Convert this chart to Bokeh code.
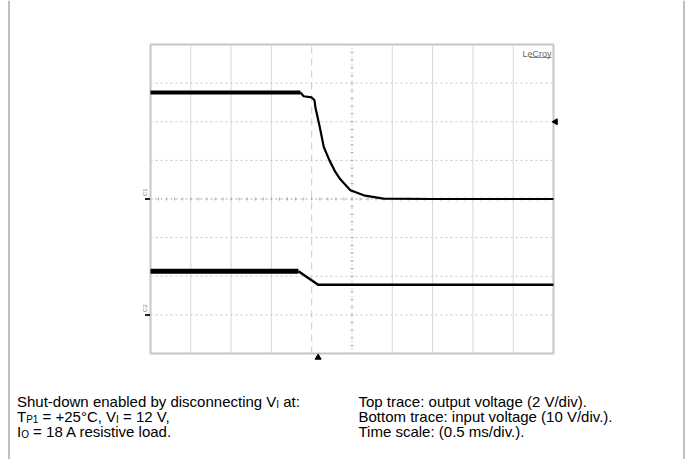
import numpy as np
from bokeh.plotting import figure
from bokeh.models import Range1d, Label, Span
from bokeh.embed import file_html
from bokeh.resources import INLINE

# ---- data ----
# time axis: 0.5 ms/div, 10 divisions, centre of screen = 0 ms
t_out_ms = [-2.5, -0.64, -0.60, -0.50, -0.465, -0.455, -0.40, -0.35, -0.28, -0.205, -0.145, -0.02, 0.145, 0.39, 0.975, 2.5]
v_out_V = [5.52, 5.52, 5.32, 5.26, 5.11, 4.76, 3.73, 2.69, 2.0, 1.39, 1.02, 0.45, 0.19, 0.02, 0.0, 0.0]
t_in_ms = [-2.5, -0.665, -0.42, 2.5]
v_in_V = [11.3, 11.3, 7.8, 7.8]
trigger_ms = -0.5
trigger_arrow_ms = -0.42
trigger_level_V = 4.0

# scope screen: 10 x 8 divisions
ms_per_div = 0.5
c1_V_per_div = 2.0
c2_V_per_div = 10.0
c1_zero_div = 4   # divisions above bottom of the screen
c2_zero_div = 1

left_text = [
    [("Shut-down enabled by disconnecting V", "n"), ("I", "sub"), (" at:", "n")],
    [("T", "n"), ("P1", "sub"), (" = +25\u00b0C, V", "n"), ("I", "sub"), (" = 12 V,", "n")],
    [("I", "n"), ("O", "sub"), (" = 18 A resistive load.", "n")],
]
right_text = [
    "Top trace: output voltage (2 V/div).",
    "Bottom trace: input voltage (10 V/div.).",
    "Time scale: (0.5 ms/div.).",
]

# ---- geometry (page pixels) ----
W, H = 690, 459
SL, SR, ST, SB = 150, 553, 44, 353      # scope screen box
FONT = "Liberation Sans"
FS = 15
FS_SUB = 10

t0, t1 = -5 * ms_per_div, 5 * ms_per_div
px_ms = (SR - SL) / (t1 - t0)
c1_lo, c1_hi = -c1_zero_div * c1_V_per_div, (8 - c1_zero_div) * c1_V_per_div
c2_lo, c2_hi = -c2_zero_div * c2_V_per_div, (8 - c2_zero_div) * c2_V_per_div
px_v1 = (SB - ST) / (c1_hi - c1_lo)
px_v2 = (SB - ST) / (c2_hi - c2_lo)

p = figure(width=W, height=H, output_backend="svg", toolbar_location=None,
           x_range=Range1d(t0 - SL / px_ms, t1 + (W - SR) / px_ms),
           y_range=Range1d(c1_lo - (H - SB) / px_v1, c1_hi + ST / px_v1),
           x_axis_location=None, y_axis_location=None, min_border=0)
p.extra_y_ranges = {"c2": Range1d(c2_lo - (H - SB) / px_v2, c2_hi + ST / px_v2)}
p.outline_line_color = None
p.background_fill_color = "white"
p.border_fill_color = "white"
p.xgrid.visible = False
p.ygrid.visible = False

# grid lines
xdiv = np.arange(t0 + ms_per_div, t1 - 1e-9, ms_per_div)
xg = [x for x in xdiv if abs(x) > 1e-9 and abs(x - trigger_ms) > 1e-9]
p.segment(x0=xg, y0=c1_lo, x1=xg, y1=c1_hi, line_color="#d9d9d9", line_width=1)
ydiv = np.arange(c1_lo + c1_V_per_div, c1_hi - 1e-9, c1_V_per_div)
yg = [y for y in ydiv if abs(y) > 1e-9]
p.segment(x0=t0, y0=yg, x1=t1, y1=yg, line_color="#c4c4c4", line_width=1, line_dash="2 3")
p.segment(x0=[trigger_ms], y0=c1_lo, x1=[trigger_ms], y1=c1_hi, line_color="#c8c8c8", line_width=1, line_dash="7 5")
p.segment(x0=[0], y0=c1_lo, x1=[0], y1=c1_hi, line_color="#a8a8a8", line_width=1, line_dash="1 3")
p.segment(x0=t0, y0=[0], x1=t1, y1=[0], line_color="#a8a8a8", line_width=1, line_dash="2 3")

# centre-line tick marks
tx = np.arange(t0, t1 + 1e-9, ms_per_div / 5)
p.scatter(tx, np.zeros_like(tx), marker="dash", angle=np.pi / 2, size=3, line_color="#aaaaaa", line_width=1)
ty = np.arange(c1_lo, c1_hi + 1e-9, c1_V_per_div / 5)
p.scatter(np.zeros_like(ty), ty, marker="dash", size=3, line_color="#aaaaaa", line_width=1)

# screen frame
p.quad(left=[t0], right=[t1], bottom=[c1_lo], top=[c1_hi], fill_color=None, line_color="#c6c6c6", line_width=2)

# traces
n_pre_out = 2
p.line(t_out_ms[:n_pre_out], v_out_V[:n_pre_out], line_color="black", line_width=4)
p.line(t_out_ms[n_pre_out - 1:], v_out_V[n_pre_out - 1:], line_color="black", line_width=2.2)
p.line(t_in_ms[:2], v_in_V[:2], line_color="black", line_width=5, y_range_name="c2")
p.line(t_in_ms[1:], v_in_V[1:], line_color="black", line_width=2.5, y_range_name="c2")

# scope markers
p.scatter([t1 + 2 / px_ms], [trigger_level_V], marker="triangle", angle=np.pi / 2, size=6, color="black")
p.scatter([trigger_arrow_ms], [c1_lo - 4 / px_v1], marker="triangle", size=6, color="black")
for rng, lab in ((None, "C1"), ("c2", "C2")):
    kw = {} if rng is None else {"y_range_name": rng}
    p.scatter([t0 - 3 / px_ms], [0], marker="dash", size=5, line_color="#222222", line_width=2, **kw)
    p.add_layout(Label(x=t0, y=0, x_offset=-3, y_offset=3, text=lab, text_font=FONT, text_font_size="6px",
                       text_align="left", text_baseline="bottom", angle=np.pi / 2, text_color="#777777", **kw))
p.add_layout(Label(x=t1, y=c1_hi, x_offset=-2, y_offset=-4, text="LeCroy", text_font=FONT, text_font_size="9px",
                   text_align="right", text_baseline="top", text_color="#666666"))
p.segment(x0=[t1 - 24 / px_ms], y0=[c1_hi - 13 / px_v1], x1=[t1 - 2 / px_ms], y1=[c1_hi - 13 / px_v1],
          line_color="#888888", line_width=1)

# page border lines
p.add_layout(Span(location=8.5, location_units="screen", dimension="height", line_color="#808080", line_width=1))
p.add_layout(Span(location=683.5, location_units="screen", dimension="height", line_color="#808080", line_width=1))

# caption text with subscripts (Arial/Liberation Sans advance widths)
AW = {' ': 278, '-': 333, ',': 278, '.': 278, ':': 278, '=': 584, '+': 584, '\u00b0': 400, '(': 333, ')': 333,
      '/': 278, 'A': 667, 'C': 722, 'I': 278, 'O': 778, 'P': 667, 'S': 667, 'T': 611, 'V': 667}
for ch in "0123456789":
    AW[ch] = 556
for ch, w in zip("abcdefghijklmnopqrstuvwxyz",
                 [556, 556, 500, 556, 556, 278, 556, 556, 222, 222, 500, 222, 833, 556, 556, 556, 556, 333, 500, 278,
                  556, 500, 722, 500, 500, 500]):
    AW[ch] = w


def tw(s, size):
    return sum(AW.get(c, 556) for c in s) * size / 1000.0


LX, RX = 16.5, 358
baselines = [401, 416, 431]
for line, by in zip(left_text, baselines):
    x = LX
    for s, kind in line:
        size = FS if kind == "n" else FS_SUB
        yy = H - by if kind == "n" else H - by - 3
        lead = s[:len(s) - len(s.lstrip(" "))]
        body = s.strip(" ")
        x += tw(lead, size)
        p.add_layout(Label(x=x, y=yy, x_units="screen", y_units="screen", text=body, text_font=FONT,
                           text_font_size=f"{size}px", text_baseline="alphabetic", text_align="left",
                           text_color="black"))
        x += tw(s[len(lead):], size)
for s, by in zip(right_text, baselines):
    p.add_layout(Label(x=RX, y=H - by, x_units="screen", y_units="screen", text=s, text_font=FONT,
                       text_font_size=f"{FS}px", text_baseline="alphabetic", text_align="left", text_color="black"))

open("out.html", "w").write(file_html(p, INLINE))
